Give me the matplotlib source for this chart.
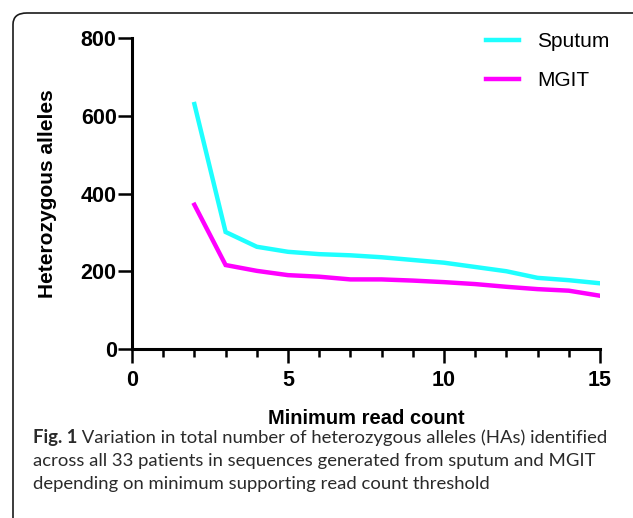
import numpy as np
import matplotlib
matplotlib.use('Agg')
import matplotlib.pyplot as plt
from matplotlib.patches import FancyBboxPatch

# 최소 read count 별 이형접합 대립유전자 수
read_count = [2, 3, 4, 5, 6, 7, 8, 9, 10, 11, 12, 13, 14, 15]
sputum = [630, 301, 263, 250, 244, 241, 236, 229, 222, 211, 200, 183, 177, 169]
mgit = [371, 216, 201, 190, 186, 179, 179, 176, 172, 167, 160, 154, 150, 137]

x_ticks = [0, 5, 10, 15]
y_ticks = [0, 200, 400, 600, 800]

caption_bold = 'Fig. 1'
caption_lines = [' Variation in total number of heterozygous alleles (HAs) identified',
                 'across all 33 patients in sequences generated from sputum and MGIT',
                 'depending on minimum supporting read count threshold']

plt.rcParams['font.family'] = ['Liberation Sans', 'DejaVu Sans']

fig = plt.figure(figsize=(6.33, 5.18), dpi=100)

# 바깥 테두리 (둥근 모서리, 오른쪽/아래는 잘림)
box = FancyBboxPatch((13 / 633, -0.05), 1.2, 1 - 13 / 518 + 0.05,
                     boxstyle='round,pad=0,rounding_size=0.022',
                     transform=fig.transFigure, fill=False,
                     edgecolor='#1a1a1a', linewidth=1.2)
fig.patches.append(box)

ax = fig.add_axes([132 / 633, 1 - 349 / 518, 468 / 633, 311 / 518])
ax.plot(read_count, sputum, color='#1EFFFF', lw=3.2, label='Sputum',
        solid_joinstyle='miter')
ax.plot(read_count, mgit, color='#FF00FF', lw=3.2, label='MGIT',
        solid_joinstyle='miter')

ax.set_xlim(0, 15)
ax.set_ylim(0, 800)
ax.set_xticks(x_ticks)
ax.set_xticks(np.arange(0, 16, 1), minor=True)
ax.set_yticks(y_ticks)

for s in ['top', 'right']:
    ax.spines[s].set_visible(False)
for s in ['left', 'bottom']:
    ax.spines[s].set_linewidth(2.2)

ax.tick_params(axis='both', which='major', length=10, width=1.8,
               labelsize=15.5)
ax.tick_params(axis='y', which='major', pad=1)
ax.tick_params(axis='x', which='major', pad=5)
ax.tick_params(axis='x', which='minor', length=5.5, width=1.8)
for lab in ax.get_xticklabels() + ax.get_yticklabels():
    lab.set_fontweight('bold')

ax.set_xlabel('Minimum read count', fontsize=14.5, fontweight='bold',
              labelpad=13)
ax.set_ylabel('Heterozygous alleles', fontsize=15, fontweight='bold',
              labelpad=17)

ax.legend(loc='upper right', bbox_to_anchor=(1.06, 1.078), frameon=False,
          fontsize=15, handlelength=1.6, handletextpad=0.85,
          labelspacing=0.95)

# 캡션
cap_font = ['Lato', 'DejaVu Sans']
cap_col = '#2a2a2a'
cap_size = 13.3
t = fig.text(33 / 633, 1 - 438 / 518, caption_bold, fontsize=cap_size,
             fontweight='bold', family=cap_font, color=cap_col, va='center')
ax.annotate(caption_lines[0], xy=(1, 0.5), xycoords=t, va='center',
            fontsize=cap_size, family=cap_font, color=cap_col,
            annotation_clip=False)
for i, line in enumerate(caption_lines[1:]):
    fig.text(33 / 633, 1 - (461 + 22.5 * i) / 518, line, fontsize=cap_size,
             family=cap_font, color=cap_col, va='center')

fig.savefig('out.png', dpi=100)
